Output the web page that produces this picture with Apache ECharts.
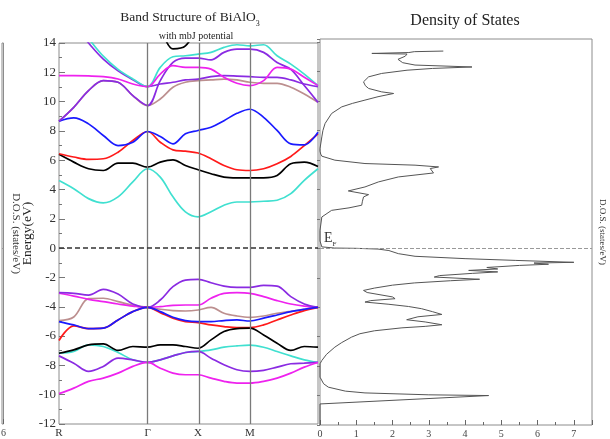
<!DOCTYPE html>
<html>
<head>
<meta charset="utf-8">
<title>Band Structure of BiAlO3</title>
<script src="https://cdn.jsdelivr.net/npm/echarts@6.0.0/dist/echarts.min.js"></script>
<style>
  html, body { margin: 0; padding: 0; background: #fff; }
  #chart { width: 610px; height: 439px; }
</style>
</head>
<body>
<div id="chart"></div>
<script>
// k path positions (fraction of path length) and high symmetry labels
const kGrid = [0, 0.057, 0.114, 0.171, 0.228, 0.285, 0.342, 0.391, 0.440, 0.488, 0.537,
  0.587, 0.637, 0.687, 0.737, 0.790, 0.842, 0.895, 0.947, 1.0];
const kTicks = [0, 0.342, 0.537, 0.737];
const kLabels = ['R', 'Γ', 'X', 'M'];

// conduction bands (eV)
const cbCyanLow = [4.62, 4.06, 3.38, 3.09, 3.5, 4.52, 5.42, 4.85, 3.5, 2.48, 2.14, 2.48, 2.93, 3.15, 3.15, 3.2, 3.27, 3.72, 4.63, 5.42];
const cbBlack = [6.4, 5.87, 5.42, 5.3, 5.8, 5.8, 5.53, 5.87, 6.03, 5.64, 5.35, 5.08, 4.85, 4.8, 4.8, 4.8, 4.96, 5.76, 5.87, 5.57];
const cbRed = [6.44, 6.22, 6.06, 6.1, 6.55, 7.35, 7.96, 7.23, 6.71, 6.62, 6.49, 6.1, 5.64, 5.35, 5.3, 5.42, 5.76, 6.26, 7.0, 7.8];
const cbBlue = [8.66, 8.89, 8.48, 7.69, 7.0, 7.23, 7.96, 7.62, 7.12, 7.8, 8.03, 8.25, 8.7, 9.2, 9.48, 8.93, 8.03, 7.12, 7.05, 7.91];
const cbBrown = [8.66, 9.61, 10.75, 11.43, 11.32, 10.41, 9.73, 10.18, 10.98, 11.32, 11.43, 11.48, 11.54, 11.48, 11.32, 11.25, 11.25, 10.98, 10.52, 9.95];
const cbViolet = [8.66, 9.61, 10.75, 11.43, 11.32, 10.41, 9.73, 11.43, 12.67, 12.97, 12.97, 12.85, 13.36, 13.58, 13.58, 13.36, 12.67, 12.2, 11.1, 9.95];
const cbMagenta = [11.77, 11.77, 11.75, 11.7, 11.54, 11.2, 11.02, 11.88, 12.45, 12.34, 12.34, 12.22, 11.66, 11.25, 11.09, 11.43, 12.34, 12.22, 11.66, 11.09];
const cbViolet2 = [16.0, 15.2, 14.0, 12.9, 12.1, 11.5, 11.02, 11.2, 11.32, 11.48, 11.54, 11.7, 11.77, 11.74, 11.7, 11.65, 11.65, 11.48, 11.2, 11.02];
const cbCyanHigh = [16.5, 15.5, 14.3, 13.1, 12.2, 11.55, 11.02, 12.34, 13.06, 13.13, 13.24, 13.36, 13.7, 13.88, 13.81, 13.88, 13.13, 12.56, 11.88, 11.09];
const cbBlackHigh = [null, null, null, null, null, null, null, 15.2, 13.6, 13.8, 15.2, null, null, null, null, null, null, null, null, null];

// valence bands (eV)
const vbViolet = [-3.04, -3.08, -3.2, -2.81, -3.13, -3.81, -4.04, -3.54, -2.63, -2.18, -2.13, -2.36, -2.59, -2.68, -2.68, -2.54, -2.59, -3.31, -3.81, -4.04];
const vbMagenta = [-3.08, -3.27, -3.49, -3.65, -3.81, -3.95, -4.04, -3.99, -3.9, -3.88, -3.88, -3.42, -3.08, -3.04, -3.08, -3.31, -3.58, -3.81, -3.95, -4.04];
const vbBrown = [-4.94, -4.7, -3.45, -3.42, -3.65, -3.9, -4.04, -4.17, -4.26, -4.29, -4.22, -4.04, -4.44, -4.63, -4.72, -4.63, -4.44, -4.31, -4.17, -4.04];
const vbBlue = [-5.01, -5.24, -5.49, -5.46, -4.9, -4.33, -4.04, -4.33, -4.72, -4.94, -5.01, -5.01, -4.94, -4.9, -4.97, -4.78, -4.56, -4.33, -4.17, -4.04];
const vbRed = [-6.3, -5.3, -5.49, -5.46, -4.9, -4.33, -4.04, -4.4, -4.78, -5.01, -5.08, -5.24, -5.35, -5.42, -5.42, -5.24, -4.9, -4.56, -4.26, -4.04];
const vbBlack = [-7.17, -6.94, -6.6, -6.53, -6.98, -6.71, -6.76, -6.6, -6.6, -6.71, -6.83, -6.26, -5.69, -5.49, -5.46, -5.92, -6.49, -6.98, -6.71, -6.76];
const vbCyan = [-7.17, -7.05, -6.6, -6.71, -7.12, -7.62, -7.8, -7.62, -7.35, -7.12, -7.05, -6.94, -6.76, -6.67, -6.62, -6.76, -7.05, -7.35, -7.62, -7.8];
const vbViolet2 = [-7.35, -7.85, -8.41, -8.07, -7.5, -7.62, -7.8, -7.62, -7.35, -7.12, -7.05, -7.51, -7.96, -8.3, -8.41, -8.34, -8.12, -7.89, -7.85, -7.8];
const vbMagenta2 = [-9.93, -9.55, -9.09, -8.87, -8.53, -8.07, -7.8, -8.19, -8.53, -8.64, -8.64, -8.87, -9.09, -9.21, -9.21, -9.09, -8.87, -8.53, -8.12, -7.8];

// total density of states: energy (eV) and states/eV
const dosEnergy = [13.40, 13.36, 13.30, 13.24, 13.20, 13.05, 12.84, 12.61, 12.45, 12.32, 12.22, 12.10, 11.88, 11.65, 11.31,
  11.05, 10.86, 10.63, 10.52, 10.30, 10.07, 9.85, 9.61, 9.16, 8.48, 8.0, 7.57, 6.78, 6.60, 6.40, 6.26, 5.99, 5.76, 5.65,
  5.53, 5.42, 5.12, 4.85, 4.51, 4.17, 3.90, 3.80, 3.65, 3.49, 3.20, 2.93, 2.75, 2.58, 2.13, 1.22, 0.5, 0.1, 0.02, 0.0,
  -0.05, -0.15, -0.36, -0.54, -0.70, -0.82, -0.95, -1.0, -1.08, -1.16, -1.3, -1.4, -1.5, -1.6, -1.7, -1.85, -1.95, -2.1,
  -2.2, -2.35, -2.5, -2.7, -2.86, -3.0, -3.3, -3.42, -3.55, -3.65, -3.8, -3.95, -4.1, -4.3, -4.49, -4.65, -4.85, -5.0,
  -5.19, -5.3, -5.4, -5.6, -5.8, -6.03, -6.4, -6.71, -7.2, -7.62, -7.84, -8.75, -9.2, -9.43, -9.7, -9.82, -9.95, -10.0,
  -10.57, -12];
const dosStates = [3.4, 2.6, 2.45, 1.43, 2.4, 2.35, 2.15, 2.28, 2.62, 4.19, 3.1, 2.4, 1.70, 1.34, 1.2,
  1.25, 1.34, 1.70, 2.03, 1.6, 1.24, 0.9, 0.6, 0.32, 0.14, 0.08, 0.05, 0.0, 0.0, 0.02, 0.05, 0.41, 1.24, 2.62,
  3.27, 3.04, 3.13, 2.16, 1.61, 1.24, 0.78, 0.74, 1.34, 1.2, 1.17, 1.15, 0.8, 0.32, 0.05, 0.0, 0.0, 0.05, 0.4, 1.0,
  1.6, 1.9, 2.16, 2.62, 4.0, 5.4, 7.0, 5.9, 6.3, 5.5, 4.6, 4.9, 4.1, 4.9, 4.2, 3.3, 3.15, 4.4,
  3.6, 2.6, 2.0, 1.5, 1.2, 1.3, 2.0, 2.07, 1.4, 1.24, 1.9, 2.44, 2.8, 3.1, 3.36, 2.7, 2.39, 2.9,
  3.36, 2.9, 2.26, 1.5, 1.1, 0.87, 0.6, 0.41, 0.18, 0.05, 0.0, 0.0, 0.1, 0.23, 0.7, 1.24, 3.0, 4.65,
  0.0, 0.0];

const serif = '"Liberation Serif", "DejaVu Serif", serif';
const frame = '#8c8c8c';

const bandSet = [
  [cbBrown, '#bc8f8f'], [cbCyanLow, '#40e0d0'], [cbBlack, '#000000'], [cbRed, '#ff1a1a'],
  [cbBlue, '#1a1aff'], [cbViolet, '#8a2be2'], [cbViolet2, '#8a2be2'], [cbCyanHigh, '#40e0d0'],
  [cbMagenta, '#ee22ee'], [cbBlackHigh, '#000000'],
  [vbBrown, '#bc8f8f'], [vbMagenta, '#ee22ee'], [vbViolet, '#8a2be2'], [vbRed, '#ff1a1a'],
  [vbBlue, '#1a1aff'], [vbCyan, '#40e0d0'], [vbBlack, '#000000'], [vbViolet2, '#8a2be2'],
  [vbMagenta2, '#ee22ee']
];

const series = bandSet.map(([vals, color], i) => ({
  type: 'line',
  xAxisIndex: 0,
  yAxisIndex: 0,
  data: kGrid.map((k, j) => [k, vals[j]]).filter(p => p[1] !== null),
  smooth: 0.35,
  showSymbol: false,
  silent: true,
  lineStyle: {color: color, width: 1.7},
  markLine: i === 0 ? {
    silent: true,
    symbol: 'none',
    label: {show: false},
    data: [
      {xAxis: kTicks[1], lineStyle: {color: '#7a7a7a', width: 1.3, type: 'solid'}},
      {xAxis: kTicks[2], lineStyle: {color: '#7a7a7a', width: 1.3, type: 'solid'}},
      {xAxis: kTicks[3], lineStyle: {color: '#7a7a7a', width: 1.3, type: 'solid'}},
      {yAxis: 0, lineStyle: {color: '#333', width: 1.6, type: [5, 3]}}
    ]
  } : undefined
}));

series.push({
  type: 'line',
  xAxisIndex: 1,
  yAxisIndex: 1,
  data: dosStates.map((d, i) => [d, dosEnergy[i]]),
  showSymbol: false,
  silent: true,
  lineStyle: {color: '#555', width: 1},
  markLine: {
    silent: true,
    symbol: 'none',
    lineStyle: {color: '#999', width: 1, type: [4, 2]},
    label: {
      show: true,
      position: 'insideStartTop',
      distance: [4, 1],
      formatter: '{e|E}{f|F}',
      rich: {
        e: {fontFamily: serif, fontSize: 14, color: '#333', lineHeight: 16, verticalAlign: 'top'},
        f: {fontFamily: serif, fontSize: 7, color: '#333', lineHeight: 16, verticalAlign: 'bottom'}
      }
    },
    data: [{yAxis: 0}]
  }
});

// cropped neighbour panel on the far left: only its right edge is visible
series.push({
  type: 'line',
  xAxisIndex: 2,
  yAxisIndex: 3,
  data: [],
  markLine: {
    silent: true,
    symbol: 'none',
    label: {show: false},
    lineStyle: {color: '#999', width: 1, type: [4, 2]},
    data: [{yAxis: 0}]
  }
});

const option = {
  animation: false,
  backgroundColor: '#fff',
  title: [
    {
      text: '{t|Band Structure of BiAlO}{s|3}',
      left: 185, top: 5, textAlign: 'center',
      textStyle: {
        fontWeight: 'normal',
        rich: {
          t: {fontFamily: serif, fontSize: 13.5, fontWeight: 'normal', color: '#222', lineHeight: 18, verticalAlign: 'top'},
          s: {fontFamily: serif, fontSize: 8, fontWeight: 'normal', color: '#222', lineHeight: 18, verticalAlign: 'bottom'}
        }
      }
    },
    {
      text: 'with mbJ potential',
      left: 191, top: 26, textAlign: 'center',
      textStyle: {fontFamily: serif, fontSize: 10, fontWeight: 'normal', color: '#222'}
    },
    {
      text: 'Density of States',
      left: 460, top: 8, textAlign: 'center',
      textStyle: {fontFamily: serif, fontSize: 16, fontWeight: 'normal', color: '#222'}
    }
  ],
  grid: [
    {left: 59, top: 43, width: 259, height: 381, show: true, borderColor: frame, borderWidth: 1},
    {left: 320, top: 39, width: 272, height: 386, show: true, borderColor: frame, borderWidth: 1},
    {left: 0, top: 43, width: 3.5, height: 381, show: true, borderColor: frame, borderWidth: 1}
  ],
  xAxis: [
    {
      gridIndex: 0, type: 'value', min: 0, max: 1,
      axisLine: {show: false, onZero: false}, axisTick: {show: false}, splitLine: {show: false},
      axisLabel: {
        customValues: kTicks,
        formatter: v => kLabels[kTicks.indexOf(v)] || '',
        fontFamily: serif, fontSize: 11, color: '#333', margin: 4
      }
    },
    {
      gridIndex: 1, type: 'value', min: 0, max: 7.5, interval: 1,
      axisLine: {show: false, onZero: false}, splitLine: {show: false},
      axisTick: {inside: true, length: 5, lineStyle: {color: '#666'}},
      minorTick: {show: true, splitNumber: 2, length: 3, lineStyle: {color: '#666'}},
      axisLabel: {fontFamily: serif, fontSize: 10, color: '#444', margin: 4, showMaxLabel: false}
    },
    {
      gridIndex: 2, type: 'value', min: 5.9, max: 6,
      axisLine: {show: false, onZero: false}, splitLine: {show: false},
      axisTick: {inside: true, length: 5, customValues: [6], lineStyle: {color: '#666'}},
      axisLabel: {customValues: [6], fontFamily: serif, fontSize: 10, color: '#444', margin: 4}
    }
  ],
  yAxis: [
    {
      gridIndex: 0, type: 'value', min: -12, max: 14, interval: 2,
      name: 'Energy(eV)', nameLocation: 'middle', nameGap: 19,
      nameTextStyle: {fontFamily: serif, fontSize: 13.5, color: '#222'},
      axisLine: {show: false, onZero: false}, splitLine: {show: false},
      axisTick: {inside: true, length: 6, lineStyle: {color: '#777'}},
      minorTick: {show: true, splitNumber: 2, length: 3, lineStyle: {color: '#777'}},
      axisLabel: {fontFamily: serif, fontSize: 13, color: '#333', margin: 3}
    },
    {
      gridIndex: 1, type: 'value', min: -12, max: 14.22, interval: 2,
      axisLine: {show: false, onZero: false}, splitLine: {show: false}, axisLabel: {show: false},
      axisTick: {inside: false, length: 3, lineStyle: {color: '#777'}}
    },
    {
      gridIndex: 1, type: 'value', position: 'right', min: -12, max: 14.22,
      name: 'D.O.S. (states/eV)', nameLocation: 'middle', nameRotate: -90, nameGap: 6,
      nameTextStyle: {fontFamily: serif, fontSize: 9, color: '#333'},
      axisLine: {show: false, onZero: false}, axisTick: {show: false}, axisLabel: {show: false}, splitLine: {show: false}
    },
    {
      gridIndex: 2, type: 'value', position: 'right', min: -12, max: 14,
      name: 'D.O.S. (states/eV)', nameLocation: 'middle', nameRotate: -90, nameGap: 7,
      nameTextStyle: {fontFamily: serif, fontSize: 11, color: '#333'},
      axisLine: {show: false, onZero: false}, axisTick: {show: false}, axisLabel: {show: false}, splitLine: {show: false}
    }
  ],
  series: series
};

const chart = echarts.init(document.getElementById('chart'));
chart.setOption(option);
</script>
</body>
</html>
